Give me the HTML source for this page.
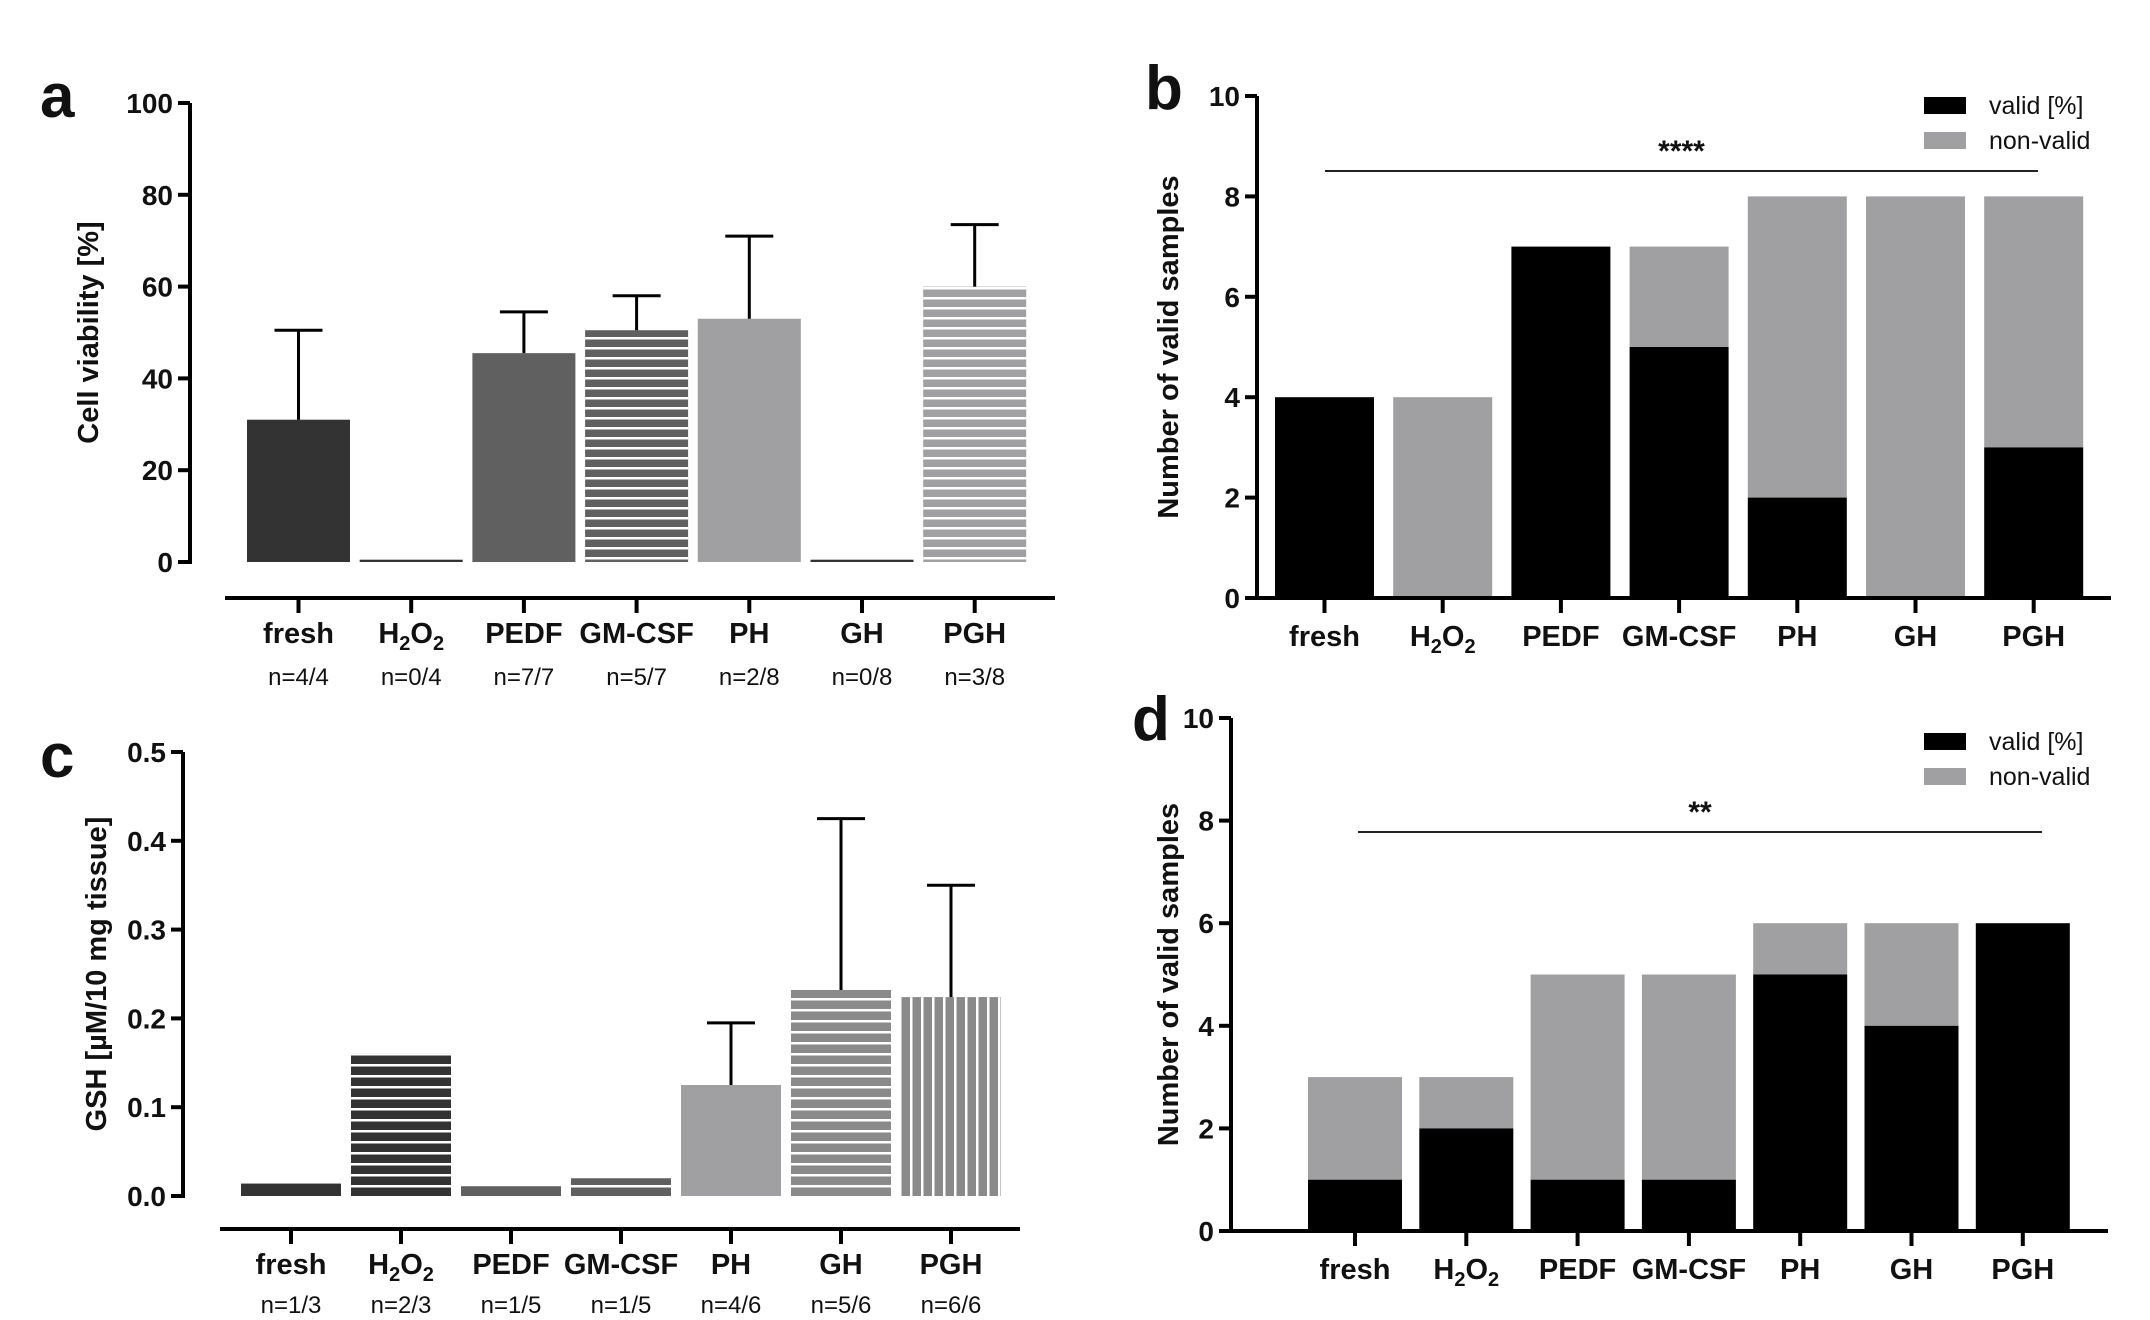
<!DOCTYPE html>
<html><head><meta charset="utf-8"><style>
html,body{margin:0;padding:0;background:#fff;}
svg{display:block;}
text{font-family:"Liberation Sans Narrow","Liberation Sans",sans-serif;font-weight:bold;fill:#111;}
.ttl{font-family:"Liberation Sans",sans-serif;font-weight:bold;}
.lab{font-family:"Liberation Sans",sans-serif;font-weight:bold;font-size:62px;}
.n{font-weight:normal;font-size:24px;}
</style></head><body>
<svg id="fig" width="2150" height="1320" viewBox="0 0 2150 1320" xmlns="http://www.w3.org/2000/svg">
<defs>
<pattern id="hs" width="10" height="10" patternUnits="userSpaceOnUse"><rect width="10" height="10" fill="none"/><rect y="7" width="10" height="2.5" fill="#fff"/></pattern>
<pattern id="hsC" width="10" height="11" patternUnits="userSpaceOnUse"><rect y="8" width="10" height="2.5" fill="#fff"/></pattern>
<pattern id="vs" width="11" height="10" patternUnits="userSpaceOnUse"><rect x="8" width="2.5" height="10" fill="#fff"/></pattern>
</defs>
<text class="lab" x="40" y="117">a</text>
<text class="lab" x="1145" y="109">b</text>
<text class="lab" x="40" y="777">c</text>
<text class="lab" x="1132" y="740">d</text>
<g id="pa"></g>
<g id="pb"></g>
<g id="pc"></g>
<g id="pd"></g>
</svg>
<script>
const categories = ["fresh","H2O2","PEDF","GM-CSF","PH","GH","PGH"];
const viabilityMean = [31, 0.5, 45.5, 50.5, 53, 0.5, 60];
const viabilityErr = [50.5, null, 54.5, 58, 71, null, 73.5];
const viabilityN = ["n=4/4","n=0/4","n=7/7","n=5/7","n=2/8","n=0/8","n=3/8"];
const viabilityTicks = [0,20,40,60,80,100];
const gshMean = [0.014, 0.16, 0.011, 0.02, 0.125, 0.232, 0.224];
const gshErr = [null, null, null, null, 0.195, 0.425, 0.35];
const gshN = ["n=1/3","n=2/3","n=1/5","n=1/5","n=4/6","n=5/6","n=6/6"];
const gshTicks = [0.0,0.1,0.2,0.3,0.4,0.5];
const bValid = [4,0,7,5,2,0,3];
const bTotal = [4,4,7,7,8,8,8];
const dValid = [1,2,1,1,5,4,6];
const dTotal = [3,3,5,5,6,6,6];
const countTicks = [0,2,4,6,8,10];

const NS="http://www.w3.org/2000/svg";
function mk(parent,tag,attrs){const e=document.createElementNS(NS,tag);for(const k in attrs)e.setAttribute(k,attrs[k]);parent.appendChild(e);return e;}
function txt(parent,x,y,s,size,anchor,cls){const t=mk(parent,"text",{x:x,y:y,"font-size":size,"text-anchor":anchor||"middle"});if(cls)t.setAttribute("class",cls);t.textContent=s;return t;}
function catLabel(parent,x,y,c){
  const t=mk(parent,"text",{x:x,y:y,"font-size":29,"text-anchor":"middle"});
  if(c==="H2O2"){t.textContent="H";const a=mk(t,"tspan",{"font-size":20,dy:7});a.textContent="2";const b=mk(t,"tspan",{dy:-7});b.textContent="O";const d=mk(t,"tspan",{"font-size":20,dy:7});d.textContent="2";}
  else t.textContent=c;
  
  
}
function yAxis(g,ax,y0,y1,ticks,fmt,ys){
  const l=mk(g,"line",{x1:ax,y1:y0+2,x2:ax,y2:y1,stroke:"#000","stroke-width":4});
  
  
  ticks.forEach(v=>{const y=ys(v);mk(g,"line",{x1:ax-12,y1:y,x2:ax,y2:y,stroke:"#000","stroke-width":4});
    const t=txt(g,ax-17,y+10,fmt(v),28,"end");
    
    });
}
function yTitle(g,x,y,s){const t=mk(g,"text",{x:0,y:0,"font-size":29,"text-anchor":"middle",class:"ttl",transform:`translate(${x},${y}) rotate(-90)`});t.textContent=s;
  
  }

function meanPanel(g,o,means,errs,ns,ticks,fmt,fills,title){
  const ys=v=>o.y0-(v-ticks[0])/(ticks[ticks.length-1]-ticks[0])*(o.y0-o.y1);
  const xc=i=>o.x0+o.bw/2+i*o.step;
  yAxis(g,o.ax,o.y0,o.y1,ticks,fmt,ys);
  yTitle(g,o.tx,(o.y0+o.y1)/2,title);
  means.forEach((m,i)=>{
    const x=xc(i)-o.bw/2,y=ys(m);
    const base=fills[i];
    const r=mk(g,"rect",{x:x,y:y,width:o.bw,height:ys(0)-y,fill:base[0]});
    
    
    if(base[1]) mk(g,"rect",{x:x,y:y,width:o.bw,height:ys(0)-y,fill:"url(#"+base[1]+")"});
    if(errs[i]!=null){
      const e=mk(g,"path",{d:`M${xc(i)},${y} V${ys(errs[i])} M${xc(i)-24},${ys(errs[i])} H${xc(i)+24}`,stroke:"#000","stroke-width":3,fill:"none"});
      
      
    }
  });
  const xl=mk(g,"line",{x1:o.xa0,y1:o.xay,x2:o.xa1,y2:o.xay,stroke:"#000","stroke-width":4});
  
  
  categories.forEach((c,i)=>{
    mk(g,"line",{x1:xc(i),y1:o.xay,x2:xc(i),y2:o.xay+15,stroke:"#000","stroke-width":4});
    catLabel(g,xc(i),o.ly,c);
    const t=txt(g,xc(i),o.ny,ns[i],24,"middle","n");
    
    
  });
}
meanPanel(document.getElementById("pa"),
 {ax:190,y0:562,y1:103,x0:247,bw:103,step:112.7,xa0:225,xa1:1055,xay:598,ly:643,ny:685,tx:98},
 viabilityMean,viabilityErr,viabilityN,viabilityTicks,v=>String(v),
 [["#333"],["#333"],["#606060"],["#606060","hs"],["#a0a0a2"],["#333"],["#a0a0a2","hs"]],
 "Cell viability [%]");
meanPanel(document.getElementById("pc"),
 {ax:183,y0:1196,y1:752,x0:241,bw:100,step:110,xa0:220,xa1:1020,xay:1229,ly:1274,ny:1313,tx:106},
 gshMean,gshErr,gshN,gshTicks,v=>v.toFixed(1),
 [["#333"],["#333","hsC"],["#606060"],["#606060","hsC"],["#a0a0a2"],["#8a8a8a","hsC"],["#8a8a8a","vs"]],
 "GSH [\u00b5M/10 mg tissue]");

function countPanel(g,o,valid,total,stars){
  const ys=v=>o.y0-v/10*(o.y0-o.y1);
  const xc=i=>o.x0+o.bw/2+i*o.step;
  yAxis(g,o.ax,o.y0,o.y1,countTicks,v=>String(v),ys);
  yTitle(g,o.tx,(o.y0+o.y1)/2,"Number of valid samples");
  total.forEach((t,i)=>{
    const x=xc(i)-o.bw/2;
    const r1=mk(g,"rect",{x:x,y:ys(t),width:o.bw,height:ys(valid[i])-ys(t),fill:"#a0a0a2"});
    
    
    const r2=mk(g,"rect",{x:x,y:ys(valid[i]),width:o.bw,height:ys(0)-ys(valid[i]),fill:"#000"});
    
    
  });
  const xl=mk(g,"line",{x1:o.ax,y1:o.y0,x2:o.xa1,y2:o.y0,stroke:"#000","stroke-width":4});
  
  
  categories.forEach((c,i)=>{
    mk(g,"line",{x1:xc(i),y1:o.y0,x2:xc(i),y2:o.y0+15,stroke:"#000","stroke-width":4});
    catLabel(g,xc(i),o.y0+48,c);
  });
  const sl=mk(g,"line",{x1:o.s0,y1:o.sy,x2:o.s1,y2:o.sy,stroke:"#222","stroke-width":2});
  
  
  const st=txt(g,(o.s0+o.s1)/2,o.sy-10,stars,30,"middle");
  
  
  const l1=mk(g,"rect",{x:1924,y:o.ly-8,width:42,height:17,fill:"#000"});
  
  
  const l2=mk(g,"rect",{x:1924,y:o.ly+27,width:42,height:17,fill:"#a0a0a2"});
  
  
  const t1=mk(g,"text",{x:1989,y:o.ly+9,"font-size":25,"text-anchor":"start",style:"font-weight:normal"});t1.textContent="valid [%]";
  
  
  const t2=mk(g,"text",{x:1989,y:o.ly+44,"font-size":25,"text-anchor":"start",style:"font-weight:normal"});t2.textContent="non-valid";
  
  
}
countPanel(document.getElementById("pb"),
 {ax:1257,y0:598,y1:96,x0:1275,bw:99,step:118.2,xa1:2111,tx:1178,s0:1325,s1:2038,sy:171,ly:105},
 bValid,bTotal,"****");
countPanel(document.getElementById("pd"),
 {ax:1231,y0:1231,y1:718,x0:1308,bw:94,step:111.3,xa1:2108,tx:1178,s0:1358,s1:2042,sy:832,ly:741},
 dValid,dTotal,"**");
</script>
</body></html>
